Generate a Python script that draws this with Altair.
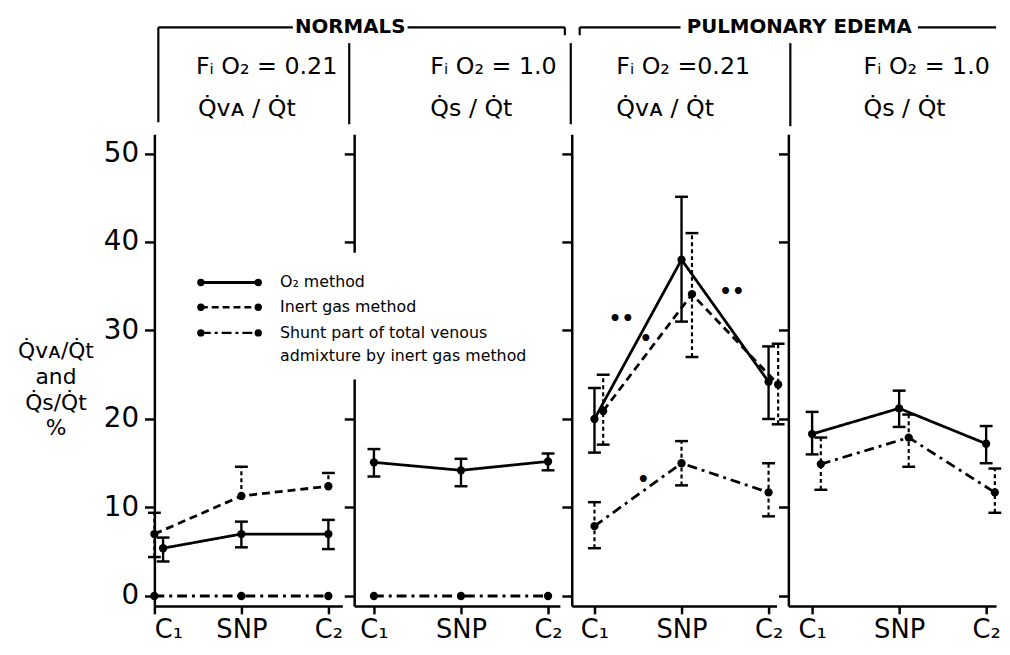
import json
import altair as alt
import pandas as pd

FONT = "DejaVu Sans"

# ---------------- text ----------------
categories = ["C₁", "SNP", "C₂"]
series_names = ["O₂ method", "Inert gas method",
                "Shunt part of total venous admixture by inert gas method"]
group_titles = ["NORMALS", "PULMONARY EDEMA"]
panel_line1 = ["Fᵢ O₂ = 0.21", "Fᵢ O₂ = 1.0", "Fᵢ O₂ =0.21", "Fᵢ O₂ = 1.0"]
panel_line2 = ["Q̇ᴠᴀ / Q̇t", "Q̇s / Q̇t", "Q̇ᴠᴀ / Q̇t", "Q̇s / Q̇t"]
y_title = ["Q̇ᴠᴀ/Q̇t", "and", "Q̇s/Q̇t", "%"]
y_ticks = [0, 10, 20, 30, 40, 50]
legend_lines = ["O₂ method", "Inert gas method",
                "Shunt part of total venous", "admixture by inert gas method"]

# ---------------- data ----------------
# Normals, FIO2 = 0.21
n21_o2 = [5.4, 7.0, 7.0]
n21_o2_lo = [3.9, 5.5, 5.3]
n21_o2_hi = [6.6, 8.4, 8.6]
n21_o2_dx = [0.1, 0.0, 0.0]
n21_ig = [7.0, 11.3, 12.4]
n21_ig_lo = [4.4, None, None]
n21_ig_hi = [9.4, 14.6, 13.9]
n21_ig_dx = [0.0, 0.0, 0.0]
n21_sh = [0.0, 0.0, 0.0]

# Normals, FIO2 = 1.0
n10_o2 = [15.1, 14.2, 15.2]
n10_o2_lo = [13.5, 12.4, 14.2]
n10_o2_hi = [16.6, 15.5, 16.1]
n10_sh = [0.0, 0.0, 0.0]

# Pulmonary edema, FIO2 = 0.21
p21_o2 = [20.0, 38.0, 24.2]
p21_o2_lo = [16.2, 31.0, 20.0]
p21_o2_hi = [23.5, 45.1, 28.2]
p21_ig = [20.9, 34.1, 23.9]
p21_ig_lo = [17.1, 27.0, 19.4]
p21_ig_hi = [25.0, 41.0, 28.5]
p21_ig_dx = [0.1, 0.12, 0.11]
p21_sh = [7.9, 15.0, 11.7]
p21_sh_lo = [5.4, 12.5, 9.0]
p21_sh_hi = [10.6, 17.5, 15.0]

# Pulmonary edema, FIO2 = 1.0
p10_o2 = [18.3, 21.2, 17.2]
p10_o2_lo = [16.0, 19.1, 15.0]
p10_o2_hi = [20.8, 23.2, 19.2]
p10_sh = [14.9, 17.9, 11.7]
p10_sh_lo = [12.0, 14.6, 9.4]
p10_sh_hi = [17.9, 20.5, 14.4]
p10_sh_dx = [0.1, 0.11, 0.1]

# significance marks in pulmonary edema FIO2 = 0.21 panel
sig_text = ["••", "•", "••", "•"]
sig_x = [0.31, 0.59, 1.58, 0.56]
sig_y = [31.3, 29.0, 34.3, 13.1]

NONE3 = [None, None, None]
ZERO3 = [0.0, 0.0, 0.0]

rows = []
def add(panel, s, mean, lo, hi, dx):
    for i in range(3):
        rows.append(dict(panel=panel, series=series_names[s], x=i + dx[i],
                         y=mean[i], lo=lo[i], hi=hi[i]))

add(0, 0, n21_o2, n21_o2_lo, n21_o2_hi, n21_o2_dx)
add(0, 1, n21_ig, n21_ig_lo, n21_ig_hi, n21_ig_dx)
add(0, 2, n21_sh, NONE3, NONE3, ZERO3)
add(1, 0, n10_o2, n10_o2_lo, n10_o2_hi, ZERO3)
add(1, 2, n10_sh, NONE3, NONE3, ZERO3)
add(2, 0, p21_o2, p21_o2_lo, p21_o2_hi, ZERO3)
add(2, 1, p21_ig, p21_ig_lo, p21_ig_hi, p21_ig_dx)
add(2, 2, p21_sh, p21_sh_lo, p21_sh_hi, ZERO3)
add(3, 0, p10_o2, p10_o2_lo, p10_o2_hi, ZERO3)
add(3, 2, p10_sh, p10_sh_lo, p10_sh_hi, p10_sh_dx)
df = pd.DataFrame(rows)

bars = []
caps = []
for r in rows:
    if r["hi"] is None:
        continue
    lo = r["lo"] if r["lo"] is not None else r["y"]
    bars.append(dict(panel=r["panel"], series=r["series"], x=r["x"], lo=lo, hi=r["hi"]))
    caps.append(dict(panel=r["panel"], series=r["series"], x=r["x"], v=r["hi"]))
    if r["lo"] is not None:
        caps.append(dict(panel=r["panel"], series=r["series"], x=r["x"], v=r["lo"]))
bars_df = pd.DataFrame(bars)
caps_df = pd.DataFrame(caps)
sig_df = pd.DataFrame(dict(x=sig_x, y=sig_y, t=sig_text))

# ---------------- layout ----------------
H = 477
Y_DOM = [-1.12, 52.18]
widths = [190, 208, 207, 210]
x_doms = [[0, 2.16], [-0.227, 2.136], [-0.261, 2.091], [-0.273, 2.114]]
label_expr = json.dumps(categories, ensure_ascii=False) + "[datum.value]"

one = alt.Data(values=[{}])

def txt(s, x, y, size, weight="normal", align="left"):
    return alt.Chart(one).mark_text(text=s, fontSize=size, fontWeight=weight, align=align,
                                    baseline="middle", font=FONT, color="black").encode(
        x=alt.value(x), y=alt.value(y))

def rule(x, y, x2=None, y2=None, w=2.2, dash=None):
    enc = dict(x=alt.value(x), y=alt.value(y))
    if x2 is not None:
        enc["x2"] = alt.value(x2)
    if y2 is not None:
        enc["y2"] = alt.value(y2)
    kw = dict(color="black", strokeWidth=w)
    if dash:
        kw["strokeDash"] = dash
    return alt.Chart(one).mark_rule(**kw).encode(**enc)

def dot(x, y):
    return alt.Chart(one).mark_circle(color="black", opacity=1, size=55).encode(
        x=alt.value(x), y=alt.value(y))

DASHES = [[1, 0], [8, 5], [10, 5, 3, 5]]

def panel(p, decor):
    d = df[df.panel == p]
    first = p == 0
    xenc = alt.X("x:Q", scale=alt.Scale(domain=x_doms[p], nice=False, zero=False),
                 axis=alt.Axis(values=[0, 1, 2], labelExpr=label_expr, title=None,
                               tickSize=8, labelPadding=3, labelFontSize=26))
    if first:
        yaxis = alt.Axis(values=y_ticks, labels=True, tickSize=10, labelPadding=6,
                         labelFontSize=28, title=y_title, titleAngle=0, titleAlign="center",
                         titleBaseline="top", titleX=-100, titleY=209, titleFontSize=22,
                         titleLineHeight=26, titleFontWeight="normal")
    else:
        yaxis = alt.Axis(values=y_ticks, labels=False, tickSize=10, title=None)
    yenc = alt.Y("y:Q", scale=alt.Scale(domain=Y_DOM, nice=False, zero=False), axis=yaxis)

    base = alt.Chart(d)
    lines = base.mark_line(color="black", strokeWidth=2.8).encode(
        xenc, yenc,
        strokeDash=alt.StrokeDash("series:N", scale=alt.Scale(domain=series_names, range=DASHES),
                                  legend=None))
    pts = base.mark_circle(color="black", size=70, opacity=1).encode(x="x:Q", y="y:Q")
    layers = [lines, pts]

    b = bars_df[bars_df.panel == p]
    c = caps_df[caps_df.panel == p]
    if len(b):
        bs = b[b.series == series_names[0]]
        bd = b[b.series != series_names[0]]
        if len(bs):
            layers.append(alt.Chart(bs).mark_rule(color="black", strokeWidth=2.4).encode(
                x="x:Q", y="lo:Q", y2="hi:Q"))
        if len(bd):
            layers.append(alt.Chart(bd).mark_rule(color="black", strokeWidth=2.2,
                                                  strokeDash=[4, 3]).encode(
                x="x:Q", y="lo:Q", y2="hi:Q"))
        layers.append(alt.Chart(c).mark_tick(color="black", orient="horizontal", size=13,
                                             thickness=2.5, opacity=1).encode(
            x="x:Q", y="v:Q"))
    if p == 2:
        layers.append(alt.Chart(sig_df).mark_text(fontSize=20, fontWeight="bold", font=FONT,
                                                  color="black").encode(
            x="x:Q", y="y:Q", text="t:N"))
    layers += decor
    return alt.layer(*layers).properties(width=widths[p], height=H)

# header decorations (pixel offsets relative to each panel's plot area)
HDR1, HDR2 = -68, -25
dec0 = [
    rule(4, -108, y2=-12),
    rule(4, -108, x2=140), rule(256, -108, x2=415), rule(415, -108, y2=-100),
    txt(group_titles[0], 198, -108, 20, "bold", "center"),
    txt(panel_line1[0], 42, HDR1, 24), txt(panel_line2[0], 44, HDR2, 24),
]
dec1 = [
    rule(-5, -92, y2=-10),
    txt(panel_line1[1], 77, HDR1, 24), txt(panel_line2[1], 77, HDR2, 24),
    # gap in this panel's axis behind the legend
    alt.Chart(one).mark_rect(color="white").encode(
        x=alt.value(-12), x2=alt.value(4), y=alt.value(120), y2=alt.value(248)),
    # legend
    rule(-155, 150, x2=-97, w=2.8), dot(-155, 150), dot(-97, 150),
    rule(-155, 175, x2=-97, w=2.4, dash=[7, 4]), dot(-155, 175), dot(-97, 175),
    rule(-155, 201, x2=-97, w=2.4, dash=[10, 4, 3, 4]), dot(-155, 201), dot(-97, 201),
    txt(legend_lines[0], -75, 150, 16), txt(legend_lines[1], -75, 175, 16),
    txt(legend_lines[2], -75, 201, 16), txt(legend_lines[3], -75, 224, 16),
]
dec2 = [
    rule(-1, -92, y2=-10),
    rule(8, -108, y2=-100), rule(8, -108, x2=110), rule(350, -108, x2=429),
    txt(group_titles[1], 230, -108, 20, "bold", "center"),
    txt(panel_line1[2], 45, HDR1, 24), txt(panel_line2[2], 45, HDR2, 24),
]
dec3 = [
    rule(2, -92, y2=-8),
    txt(panel_line1[3], 76, HDR1, 24), txt(panel_line2[3], 76, HDR2, 24),
]

chart = alt.hconcat(panel(0, dec0), panel(1, dec1), panel(2, dec2), panel(3, dec3),
                    spacing=12, bounds="flush").properties(
    padding={"left": 9, "top": 6, "right": 0, "bottom": 0}
).configure_view(stroke=None).configure_axis(
    grid=False, domainColor="black", domainWidth=2.5, tickColor="black", tickWidth=2.5,
    labelColor="black", titleColor="black", labelFont=FONT, titleFont=FONT
).configure_text(font=FONT)

chart.save("out.html", embed_options={"renderer": "svg", "actions": False})
